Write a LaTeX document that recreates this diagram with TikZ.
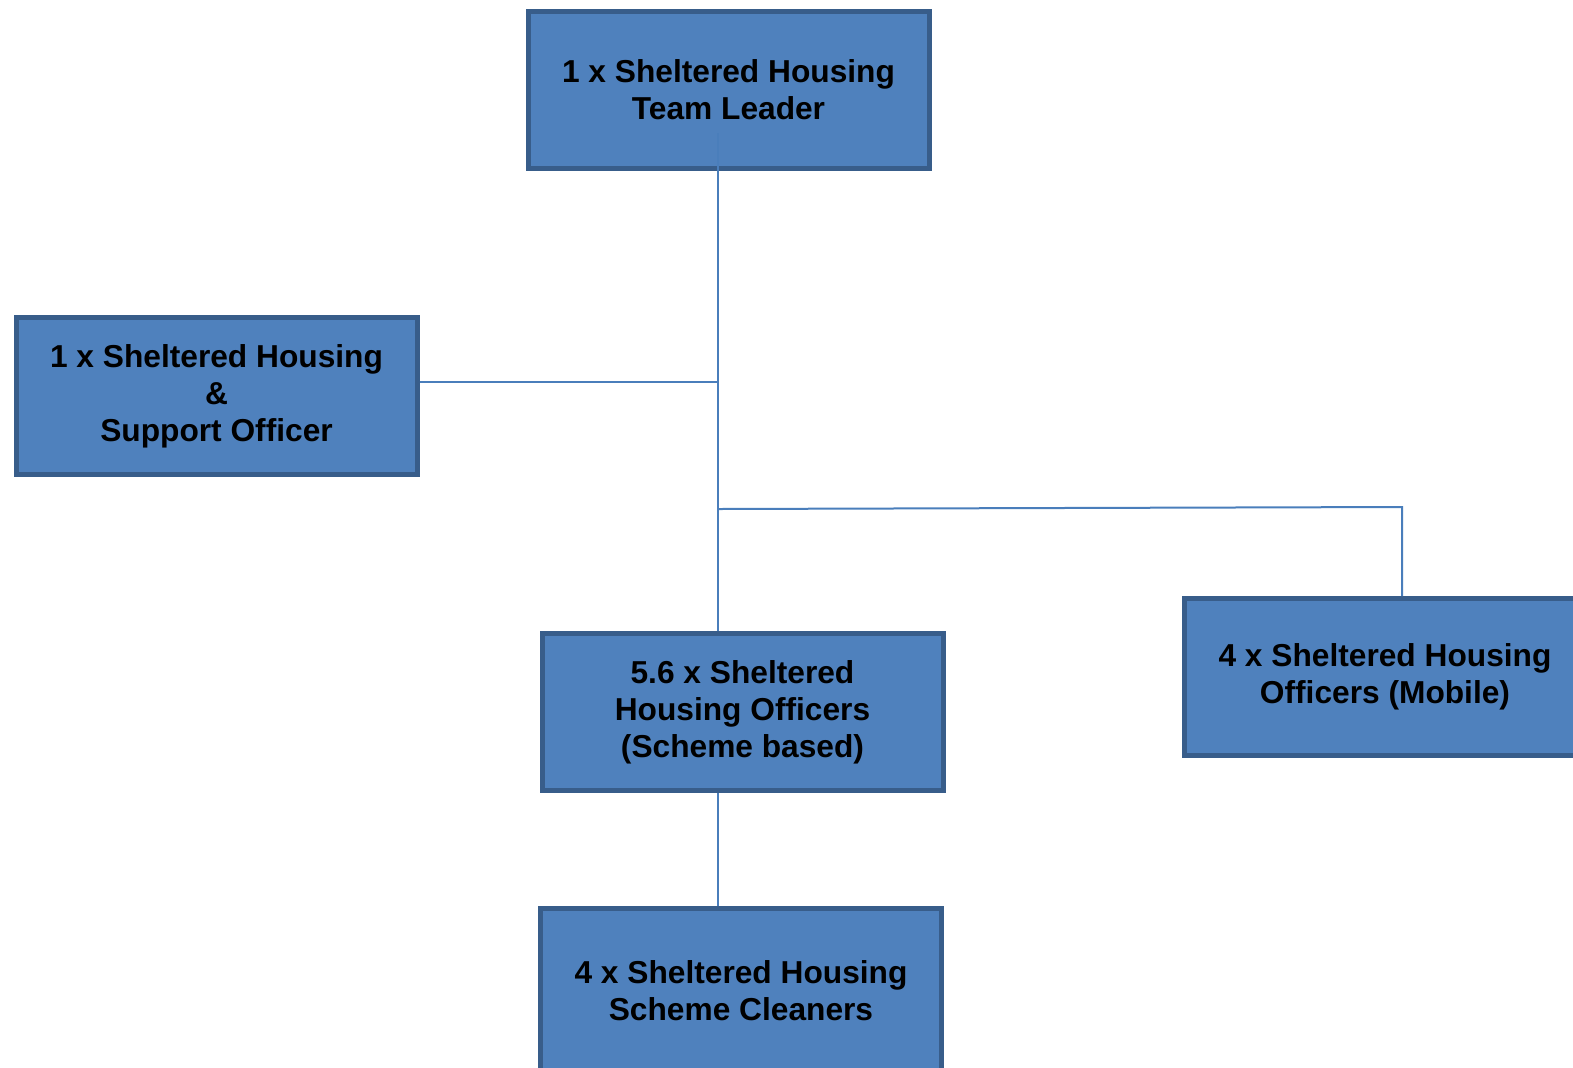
\documentclass[tikz,border=0pt]{standalone}
\usepackage{fontspec}
\setmainfont{Liberation Sans}
\definecolor{orgFill}{HTML}{4F81BD}
\definecolor{orgEdge}{HTML}{385D8A}
\definecolor{orgLine}{HTML}{4A7EBB}
\tikzset{
  org chart/.style={
    x=0.5pt, y=-0.5pt,
    every node/.style={font=\fontsize{15.85}{18.5}\selectfont\bfseries,
      text=black, align=center}
  },
  org box/.style={draw=orgEdge, fill=orgFill, line width=2.5pt,
    minimum width=200.5pt, minimum height=78.5pt, inner sep=0pt},
  org link/.style={draw=orgLine, line width=1pt}
}
\begin{document}
\begin{tikzpicture}[org chart]
    \useasboundingbox (0,0) rectangle (1573,1067);
    \node[org box] (leader) at (728.5,90) {1 x Sheltered Housing\\Team Leader};
    \node[org box] (support) at (216.5,396) {1 x Sheltered Housing\\\&\\Support Officer};
    \node[org box] (scheme) at (742.5,712) {5.6 x Sheltered\\Housing Officers\\(Scheme based)};
    \node[org box] (mobile) at (1385,677) {4 x Sheltered Housing\\Officers (Mobile)};
    \node[org box, minimum height=88pt, text depth=6pt] (cleaners) at (741,996) {4 x Sheltered Housing\\Scheme Cleaners};
    \coordinate (spine) at (718,133);
    \coordinate (tee left) at (718,382);
    \coordinate (tee right) at (718,509);
    \coordinate (elbow) at (1402,507);
    \draw[org link] (spine) -- (spine |- scheme.north);
    \draw[org link] (support.east |- tee left) -- (tee left);
    \draw[org link] (tee right) -- (elbow) -- (elbow |- mobile.north);
    \draw[org link] (scheme.south -| spine) -- (cleaners.north -| spine);
  \end{tikzpicture}
\end{document}
